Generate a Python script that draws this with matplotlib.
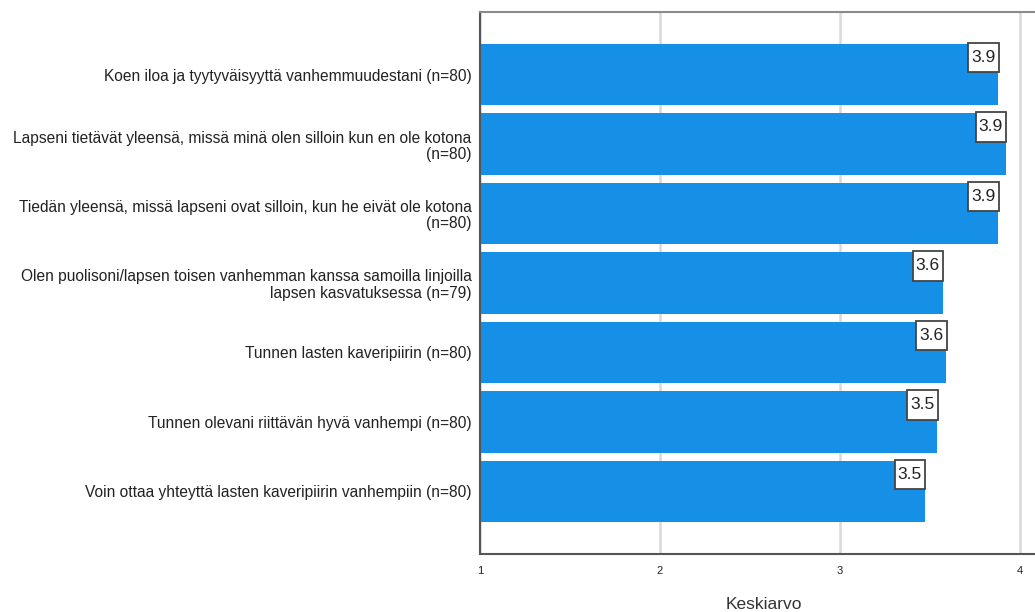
import matplotlib
matplotlib.use("Agg")
import matplotlib.pyplot as plt
from matplotlib.patches import Rectangle

plt.rcParams['font.family'] = ['Liberation Sans', 'DejaVu Sans']

# Väittämät ja keskiarvot (ylhäältä alas)
labels = [
    "Koen iloa ja tyytyväisyyttä vanhemmuudestani (n=80)",
    "Lapseni tietävät yleensä, missä minä olen silloin kun en ole kotona\n(n=80)",
    "Tiedän yleensä, missä lapseni ovat silloin, kun he eivät ole kotona\n(n=80)",
    "Olen puolisoni/lapsen toisen vanhemman kanssa samoilla linjoilla\nlapsen kasvatuksessa (n=79)",
    "Tunnen lasten kaveripiirin (n=80)",
    "Tunnen olevani riittävän hyvä vanhempi (n=80)",
    "Voin ottaa yhteyttä lasten kaveripiirin vanhempiin (n=80)",
]
means = [3.88, 3.92, 3.88, 3.57, 3.59, 3.54, 3.47]
xticks = [1, 2, 3, 4]

fig = plt.figure(figsize=(10.35, 6.12), dpi=100)
ax = fig.add_axes([0.4638, 0.0948, 0.5362, 0.8856])

ypos = list(range(len(labels)))
bar_h = 0.88
ax.barh(ypos, [m - 1 for m in means], left=1, height=bar_h, color='#1690e6', zorder=2)

# value label boxes, tucked into the top-right corner of each bar
box_w, box_h = 0.17, 0.42
for y, m in zip(ypos, means):
    top = y - bar_h / 2 - 0.015
    ax.add_patch(Rectangle((m - box_w + 0.003, top), box_w, box_h, fc='white',
                           ec='#444444', lw=1.3, zorder=4))
    ax.text(m - box_w / 2 + 0.003, top + box_h / 2, f"{m:.1f}", ha='center', va='center',
            fontsize=12.5, color='#222222', zorder=5)

ax.set_xlim(1, 4.083)
ax.set_ylim(6.9, -0.9)
ax.set_yticks(ypos)
ax.set_yticklabels(labels, fontsize=11.2, color='#222222', ha='right', multialignment='right', linespacing=1.1)
ax.set_xticks(xticks)
ax.set_xticklabels([str(t) for t in xticks], fontsize=8, color='#222222')
ax.tick_params(axis='both', length=0)
ax.tick_params(axis='x', pad=9)
ax.tick_params(axis='y', pad=6)
ax.xaxis.grid(True, color='#d9d9d9', lw=1.8, zorder=0)
ax.set_axisbelow(True)

for s in ['left', 'bottom', 'top']:
    ax.spines[s].set_color('#555555')
    ax.spines[s].set_linewidth(1.5)
ax.spines['top'].set_color('#8a8a8a')
ax.spines['right'].set_visible(False)

ax.set_xlabel("Keskiarvo", fontsize=12.5, color='#333333')
ax.xaxis.set_label_coords(0.512, -0.079)

fig.savefig("out.png", dpi=100)
